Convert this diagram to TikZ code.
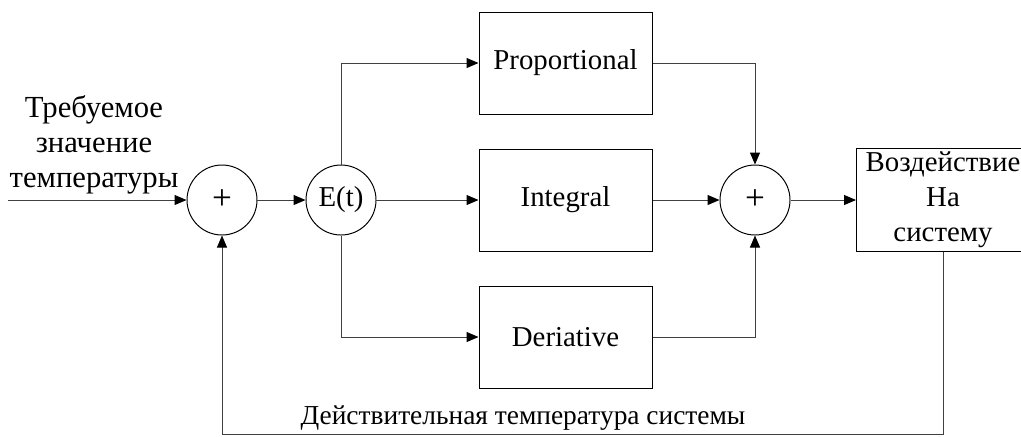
\documentclass[tikz,border=0pt]{standalone}
\usepackage{fontspec}
\setmainfont{Liberation Serif}
\usetikzlibrary{arrows.meta}

\begin{document}
\begin{tikzpicture}[
    font=\fontsize{20.5pt}{24.9pt}\selectfont,
    block/.style={draw,line width=0.7pt,minimum width=4.325cm,minimum height=2.55cm,inner sep=0pt},
    summer/.style={draw,circle,line width=0.7pt,minimum size=1.75cm,inner sep=0pt},
    plus/.style={summer,font=\fontsize{25pt}{25pt}\selectfont},
    conn/.style={draw=black!75,line width=0.7pt,-{Triangle[length=0.3cm,width=0.25cm,black]}}]
    \useasboundingbox (0,0) rectangle (25.525,-10.9);
    \node[plus] (sum1) at (5.55,-5) {+};
    \node[summer] (err) at (8.525,-5) {E(t)};
    \node[block] (prop) at (14.1375,-1.575) {Proportional};
    \node[block] (integ) at (14.1375,-5) {Integral};
    \node[block] (deriv) at (14.1375,-8.425) {Deriative};
    \node[plus] (sum2) at (18.875,-5) {+};
    \node[block,align=center,minimum height=2.575cm] (act) at (23.575,-5) {Воздействие\\На\\систему};
    \coordinate (in) at (0.2,-5);
    \coordinate (fb) at (5.55,-10.85);
    \node[align=center,font=\fontsize{21.8pt}{24.9pt}\selectfont] (setp) at (2.35,-3.625) {Требуемое\\значение\\температуры};
    \node[anchor=base,font=\fontsize{19.5pt}{24pt}\selectfont] (fbtext) at (13.075,-10.6) {Действительная температура системы};
    \draw[conn] (in) -- (sum1);
    \draw[conn] (sum1) -- (err);
    \draw[conn] (err.north) |- (prop.west);
    \draw[conn] (err) -- (integ);
    \draw[conn] (err.south) |- (deriv.west);
    \draw[conn] (prop.east) -| (sum2.north);
    \draw[conn] (integ) -- (sum2);
    \draw[conn] (deriv.east) -| (sum2.south);
    \draw[conn] (sum2) -- (act);
    \draw[conn] (act.south) |- (fb) -- (sum1.south);
\end{tikzpicture}
\end{document}
